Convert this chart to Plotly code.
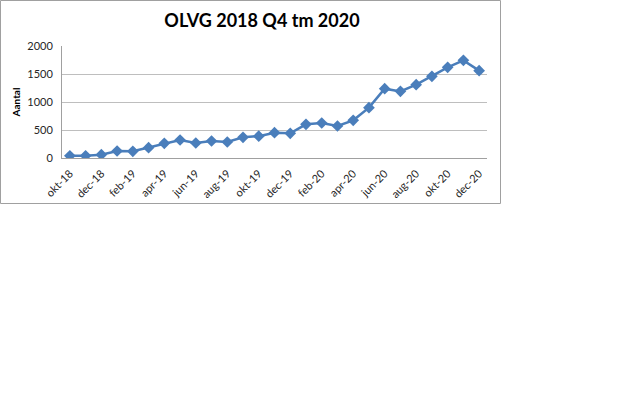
import plotly.graph_objects as go

months = ["okt-18", "nov-18", "dec-18", "jan-19", "feb-19", "mrt-19", "apr-19", "mei-19", "jun-19",
          "jul-19", "aug-19", "sep-19", "okt-19", "nov-19", "dec-19", "jan-20", "feb-20", "mrt-20",
          "apr-20", "mei-20", "jun-20", "jul-20", "aug-20", "sep-20", "okt-20", "nov-20", "dec-20"]
values = [40, 40, 60, 125, 120, 185, 262, 321, 268, 304, 286, 369, 390, 452, 440, 601, 625, 571,
          673, 899, 1238, 1190, 1310, 1458, 1619, 1744, 1560]
tick_labels = months[::2]
y_ticks = [0, 500, 1000, 1500, 2000]

W, H = 634, 397
L, R, T, B = 62, 487, 46, 158
pw, ph = R - L, B - T

fig = go.Figure()
fig.add_trace(go.Scatter(
    x=months, y=values, mode="lines+markers",
    line=dict(color="#4A7EBB", width=2.5),
    marker=dict(symbol="diamond", size=9, color="#4A7EBB"),
    showlegend=False,
))

fig.update_layout(
    width=W, height=H,
    margin=dict(l=L, r=W - R, t=T, b=H - B, pad=0),
    paper_bgcolor="white", plot_bgcolor="white",
    font=dict(family="Lato, Liberation Sans, sans-serif", color="#262626"),
    title=dict(text="<b>OLVG 2018 Q4 tm 2020</b>", x=262 / W, xanchor="center",
               y=1 - 21 / H, yanchor="middle", font=dict(size=18, color="#000000")),
    xaxis=dict(type="category", range=[-0.5, len(months) - 0.5],
               tickmode="array", tickvals=tick_labels, ticktext=tick_labels,
               tickangle=-45, tickfont=dict(size=11), showgrid=False,
               showline=True, linecolor="#A0A0A0", linewidth=1, ticks="", zeroline=False,
               ticklabelstandoff=4),
    yaxis=dict(range=[0, 2000], tickmode="array", tickvals=y_ticks,
               tickfont=dict(size=11), showgrid=True, gridcolor="#BEBEBE", gridwidth=1,
               showline=True, linecolor="#A0A0A0", linewidth=1, ticks="", ticklen=0,
               zeroline=False, ticklabelstandoff=6,
               title=dict(text="<b>Aantal</b>", font=dict(size=10, color="#000000"), standoff=4)),
)

# chart area border
fig.add_shape(type="rect", xref="paper", yref="paper",
              x0=(0.5 - L) / pw, x1=(500.5 - L) / pw,
              y0=(B - 203.5) / ph, y1=(B - 0.5) / ph,
              line=dict(color="#A0A0A0", width=1), fillcolor="rgba(0,0,0,0)", layer="below")

fig.write_html("out.html", config={"displayModeBar": False},
               post_script="document.body.style.margin='0';")
